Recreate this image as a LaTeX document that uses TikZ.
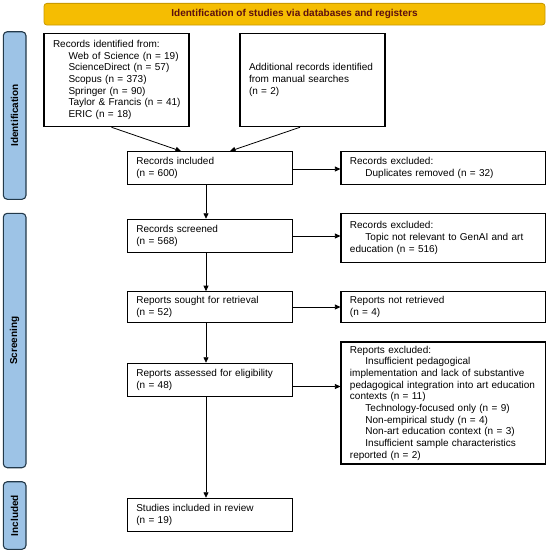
\documentclass[tikz,border=0pt]{standalone}
\usepackage{fontspec}
\setmainfont{Liberation Sans}
\usetikzlibrary{arrows.meta}
\definecolor{bannerfill}{HTML}{F5BD02}
\definecolor{bannerdraw}{HTML}{C99A00}
\definecolor{bannertext}{HTML}{5C0F0F}
\definecolor{sidefill}{HTML}{9DC3E6}
\definecolor{sidedraw}{HTML}{23394A}
\begin{document}
\begin{tikzpicture}[x=1pt,y=-1pt,
  every node/.style={font=\fontsize{10}{11.67}\selectfont},
  flowbox/.style={draw=black, line width=1.1pt, rectangle, align=left,
    inner xsep=9pt, inner ysep=0pt, anchor=center},
  sidebar/.style={draw=sidedraw, fill=sidefill, line width=1.1pt, rounded corners=4pt,
    minimum width=22.7pt, inner sep=0pt, anchor=center},
  sidetext/.style={font=\fontsize{10}{12}\selectfont\bfseries, rotate=90, anchor=center},
  arr/.style={draw=black, line width=0.8pt, -{Triangle[length=5.5pt,width=5pt]}}
]
\useasboundingbox (0,0) rectangle (550,552);
\fill[white] (0,0) rectangle (550,552);

% banner
\node[draw=bannerdraw, fill=bannerfill, line width=0.8pt, rounded corners=3pt,
  minimum width=501pt, minimum height=21.7pt, inner sep=0pt,
  font=\fontsize{10}{12}\selectfont\bfseries, text=bannertext] (banner) at (294.5,14.2)
  {Identification of studies via databases and registers};

% side bars
\node[sidebar, minimum height=167.6pt] (idbar) at (14.65,115.5) {};
\node[sidetext] (idtext) at (idbar.center) {Identification};
\node[sidebar, minimum height=254.4pt] (scbar) at (14.65,340.5) {};
\node[sidetext] (sctext) at (scbar.center) {Screening};
\node[sidebar, minimum height=67.6pt] (inbar) at (14.65,515.5) {};
\node[sidetext] (intext) at (inbar.center) {Included};

% identification boxes
\node[flowbox, text width=127pt, minimum height=93.4pt] (box1) at (116.5,80)
  {\mbox{Records identified from:}\\
   \mbox{\hspace*{15.5pt}Web of Science (n = 19)}\\
   \mbox{\hspace*{15.5pt}ScienceDirect (n = 57)}\\
   \mbox{\hspace*{15.5pt}Scopus (n = 373)}\\
   \mbox{\hspace*{15.5pt}Springer (n = 90)}\\
   \mbox{\hspace*{15.5pt}Taylor \& Francis (n = 41)}\\
   \mbox{\hspace*{15.5pt}ERIC (n = 18)}};
\node[flowbox, text width=127pt, minimum height=93.4pt] (box2) at (312.5,80)
  {Additional records identified\\from manual searches\\(n = 2)};

% main column
\node[flowbox, text width=147pt, minimum height=32.6pt] (incl) at (209.8,168)
  {Records included\\(n = 600)};
\node[flowbox, text width=186.5pt, minimum height=32.6pt] (excl1) at (443.2,168)
  {Records excluded:\\\hspace*{15.5pt}Duplicates removed (n = 32)};

\node[flowbox, text width=147pt, minimum height=33.4pt] (screened) at (209.8,236)
  {Records screened\\(n = 568)};
\node[flowbox, text width=186.5pt, minimum height=49pt] (excl2) at (443.2,237.8)
  {Records excluded:\\\hspace*{15.5pt}Topic not relevant to GenAI and art\\education (n = 516)};

\node[flowbox, text width=147pt, minimum height=30.6pt] (sought) at (209.8,307)
  {Reports sought for retrieval\\(n = 52)};
\node[flowbox, text width=186.5pt, minimum height=30.6pt] (notret) at (443.2,307)
  {Reports not retrieved\\(n = 4)};

\node[flowbox, text width=147pt, minimum height=33.4pt] (assessed) at (209.8,380)
  {Reports assessed for eligibility\\(n = 48)};
\node[flowbox, text width=186.5pt, minimum height=122pt] (excl4) at (443.2,403)
  {Reports excluded:\\
   \hspace*{15.5pt}Insufficient pedagogical\\
   \mbox{implementation and lack of substantive}\\
   \mbox{pedagogical integration into art education}\\
   contexts (n = 11)\\
   \hspace*{15.5pt}Technology-focused only (n = 9)\\
   \hspace*{15.5pt}Non-empirical study (n = 4)\\
   \hspace*{15.5pt}Non-art education context (n = 3)\\
   \mbox{\hspace*{15.5pt}Insufficient sample characteristics}\\
   reported (n = 2)};

\node[flowbox, text width=147pt, minimum height=33.4pt] (studies) at (209.8,515)
  {Studies included in review\\(n = 19)};

% connectors
\draw[arr] ([xshift=-5pt]box1.south) -- ([xshift=-28.8pt]incl.north);
\draw[arr] ([xshift=-12.5pt]box2.south) -- ([xshift=20.2pt]incl.north);
\draw[arr] ([xshift=-3.8pt]incl.south) -- ([xshift=-3.8pt]screened.north);
\draw[arr] ([xshift=-3.8pt]screened.south) -- ([xshift=-3.8pt]sought.north);
\draw[arr] ([xshift=-3.8pt]sought.south) -- ([xshift=-3.8pt]assessed.north);
\draw[arr] ([xshift=-3.8pt]assessed.south) -- ([xshift=-3.8pt]studies.north);
\draw[arr] ([yshift=-1pt]incl.east) -- ([yshift=-1pt]incl.east -| excl1.west);
\draw[arr] (screened.east) -- (screened.east -| excl2.west);
\draw[arr] (sought.east) -- (sought.east -| notret.west);
\draw[arr] ([yshift=-6.5pt]assessed.east) -- ([yshift=-6.5pt]assessed.east -| excl4.west);
\end{tikzpicture}
\end{document}
